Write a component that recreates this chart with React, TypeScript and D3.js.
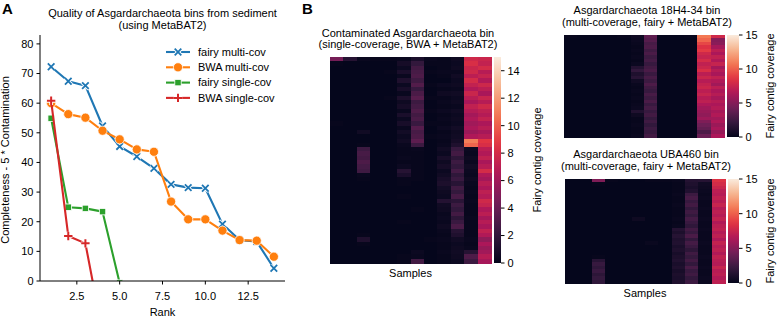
import React from "react";
import * as d3 from "d3";

// ---------------- Panel A data ----------------
const ranksMulti = [1, 2, 3, 4, 5, 6, 7, 8, 9, 10, 11, 12, 13, 14];
const fairyMulti = [72.3, 67.4, 65.9, 52.3, 45.4, 42.0, 38.0, 32.6, 31.5, 31.3, 19.2, 13.8, 13.3, 4.3];
const bwaMulti = [60.0, 56.3, 55.1, 50.7, 47.8, 44.4, 43.6, 26.8, 20.8, 20.8, 17.0, 13.8, 13.6, 8.2];
const ranksFairySingle = [1, 2, 3, 4, 5];
const fairySingle = [54.9, 24.9, 24.5, 23.4, -0.7];
const ranksBwaSingle = [1, 2, 3, 4];
const bwaSingle = [60.8, 15.2, 12.7, -17.5];
const seriesNames = ["fairy multi-cov", "BWA multi-cov", "fairy single-cov", "BWA single-cov"];
const xTicks = [2.5, 5.0, 7.5, 10.0, 12.5];
const yTicks = [0, 10, 20, 30, 40, 50, 60, 70, 80];

// ---------------- Panel B data (rows x 12 samples) ----------------
const heat1 = [
  [4.5, 1.5, 0.3, 0.2, 0.2, 0.3, 1.0, 0.3, 0.2, 0.5, 7.8, 7.6],
  [0.2, 0.1, 0.1, 0.1, 0.1, 0.8, 2.0, 0.2, 0.2, 0.4, 8.2, 7.3],
  [0.1, 0.1, 0.1, 0.1, 0.1, 0.4, 2.6, 0.1, 0.2, 0.5, 7.6, 8.0],
  [0.1, 0.1, 0.1, 0.1, 0.2, 1.0, 2.8, 0.2, 0.3, 0.3, 7.8, 6.8],
  [0.1, 0.1, 0.1, 0.1, 0.1, 0.3, 3.0, 0.1, 0.2, 0.6, 7.0, 7.4],
  [0.1, 0.1, 0.1, 0.1, 0.1, 1.2, 2.5, 0.1, 0.1, 0.4, 8.0, 6.6],
  [0.1, 0.1, 0.1, 0.1, 0.1, 0.4, 3.2, 0.2, 0.4, 0.5, 7.3, 7.7],
  [0.1, 0.1, 0.1, 0.1, 0.1, 0.9, 2.2, 0.1, 0.2, 0.3, 6.6, 7.0],
  [0.1, 0.1, 0.1, 0.1, 0.1, 0.3, 2.9, 0.1, 0.5, 0.6, 7.6, 6.3],
  [0.1, 0.1, 0.1, 0.1, 0.2, 1.1, 3.4, 0.2, 0.2, 0.4, 6.9, 7.5],
  [0.1, 0.1, 0.1, 0.1, 0.1, 0.5, 2.4, 0.1, 0.3, 0.5, 6.3, 6.8],
  [0.1, 0.1, 0.1, 0.1, 0.1, 0.8, 2.7, 0.1, 0.2, 0.3, 7.2, 7.8],
  [0.1, 0.1, 0.1, 0.1, 0.1, 0.3, 3.1, 0.2, 0.4, 0.6, 6.7, 7.1],
  [0.1, 0.1, 0.1, 0.1, 0.1, 1.0, 2.6, 0.1, 0.2, 0.4, 6.1, 6.7],
  [0.1, 0.1, 0.1, 0.1, 0.1, 0.4, 2.9, 0.1, 0.3, 0.5, 6.5, 7.3],
  [0.2, 0.1, 0.1, 0.1, 0.1, 0.9, 2.3, 0.2, 0.2, 0.4, 6.0, 6.4],
  [0.1, 0.1, 0.1, 0.1, 0.1, 0.3, 3.3, 0.1, 0.4, 0.7, 6.4, 6.9],
  [0.1, 0.1, 0.6, 0.1, 0.1, 0.7, 2.8, 0.1, 0.2, 0.5, 5.8, 6.2],
  [0.1, 0.1, 0.1, 0.1, 0.1, 0.4, 3.0, 0.2, 0.3, 0.6, 6.5, 6.8],
  [0.1, 0.1, 0.1, 0.1, 0.1, 0.6, 3.6, 0.1, 0.2, 0.8, 11.0, 8.6],
  [0.1, 0.1, 0.2, 0.1, 0.1, 0.3, 2.4, 0.1, 0.3, 1.2, 10.2, 8.2],
  [0.1, 0.1, 2.4, 0.1, 0.1, 0.2, 0.3, 0.1, 0.6, 2.2, 0.4, 7.0],
  [0.1, 0.1, 2.8, 0.1, 0.1, 0.2, 0.2, 0.1, 0.4, 2.6, 0.3, 6.6],
  [0.1, 0.1, 2.6, 0.1, 0.1, 0.3, 0.2, 0.1, 0.9, 1.8, 0.5, 7.2],
  [0.1, 0.1, 3.0, 0.1, 0.1, 0.2, 0.2, 0.1, 0.5, 2.4, 0.3, 6.3],
  [0.1, 0.1, 2.7, 0.1, 0.1, 0.4, 0.2, 0.1, 0.8, 2.0, 0.6, 6.8],
  [0.1, 0.1, 2.5, 0.1, 0.1, 1.5, 0.2, 0.1, 0.4, 2.7, 0.4, 8.0],
  [0.1, 0.1, 0.3, 0.1, 0.1, 1.0, 0.2, 0.1, 0.6, 1.9, 0.3, 6.6],
  [0.1, 0.1, 0.2, 0.1, 0.1, 0.2, 0.2, 0.1, 0.9, 2.3, 0.5, 6.1],
  [0.1, 0.1, 0.1, 0.1, 0.1, 0.2, 0.1, 0.1, 1.1, 1.6, 0.3, 6.9],
  [0.1, 0.1, 0.1, 0.1, 0.1, 0.1, 0.1, 0.1, 0.7, 2.5, 0.2, 6.4],
  [0.1, 0.1, 0.1, 0.1, 0.1, 0.1, 0.1, 0.1, 0.5, 2.1, 0.3, 7.1],
  [0.1, 0.1, 0.1, 0.1, 0.1, 0.2, 0.1, 0.1, 0.4, 2.8, 0.2, 6.7],
  [0.1, 0.1, 0.1, 0.1, 0.1, 0.1, 0.1, 0.1, 1.4, 1.7, 0.3, 7.8],
  [0.1, 0.1, 0.1, 0.1, 0.1, 0.1, 0.1, 0.1, 0.6, 2.4, 0.2, 7.4],
  [0.1, 0.1, 0.1, 0.1, 0.1, 0.1, 0.2, 0.1, 0.5, 2.0, 0.2, 6.5],
  [0.1, 0.1, 0.1, 0.1, 0.1, 0.1, 0.1, 0.1, 0.3, 2.6, 0.2, 7.0],
  [0.1, 0.1, 0.1, 0.1, 0.1, 0.1, 0.1, 0.1, 0.4, 1.8, 0.3, 6.2],
  [0.1, 0.1, 0.1, 0.1, 0.1, 0.2, 0.1, 0.1, 0.3, 2.3, 0.2, 6.8],
  [0.1, 0.1, 0.1, 0.1, 0.1, 0.1, 0.1, 0.1, 0.5, 2.9, 0.2, 6.3],
  [0.1, 0.1, 0.1, 0.1, 0.1, 0.1, 0.1, 0.1, 0.3, 1.5, 0.2, 7.2],
  [0.1, 0.1, 0.2, 0.1, 0.1, 0.1, 0.1, 0.1, 0.2, 1.2, 0.2, 6.6],
  [0.1, 0.1, 1.2, 0.1, 0.1, 0.1, 0.1, 0.2, 0.3, 0.6, 0.3, 5.4],
  [0.1, 0.1, 0.2, 0.1, 0.1, 0.1, 0.1, 0.1, 0.2, 0.4, 0.2, 6.4],
  [0.1, 0.1, 0.1, 0.1, 0.1, 0.1, 0.1, 0.1, 0.2, 0.5, 0.3, 5.7],
  [0.1, 0.1, 0.1, 0.1, 0.1, 0.1, 0.4, 0.1, 0.3, 0.6, 1.5, 6.0],
  [0.1, 0.1, 0.1, 0.1, 0.1, 0.2, 0.3, 0.1, 0.2, 0.5, 3.0, 6.8],
  [0.1, 0.1, 0.1, 0.1, 0.1, 0.2, 2.6, 0.1, 0.2, 0.4, 2.4, 6.2],
];

const heat2 = [
  [0.2, 0.1, 0.1, 0.1, 0.2, 0.5, 3.6, 0.1, 0.1, 0.2, 10.8, 7.8],
  [0.1, 0.1, 0.1, 0.1, 0.1, 0.4, 3.3, 0.1, 0.1, 0.1, 10.2, 5.0],
  [0.1, 0.1, 0.1, 0.1, 0.1, 0.3, 2.8, 0.1, 0.1, 0.1, 9.2, 5.2],
  [0.1, 0.1, 0.1, 0.1, 0.1, 0.2, 3.0, 0.1, 0.1, 0.1, 8.4, 6.2],
  [0.1, 0.1, 0.1, 0.1, 0.1, 0.3, 2.5, 0.1, 0.1, 0.1, 8.8, 7.0],
  [0.1, 0.1, 0.1, 0.1, 0.1, 0.2, 2.9, 0.1, 0.1, 0.1, 7.8, 6.4],
  [0.1, 0.1, 0.1, 0.1, 0.1, 0.3, 2.4, 0.1, 0.1, 0.1, 7.4, 7.2],
  [0.1, 0.1, 0.1, 0.1, 0.1, 0.2, 2.7, 0.1, 0.1, 0.1, 8.0, 6.6],
  [0.1, 0.1, 0.1, 0.1, 0.1, 0.4, 2.2, 0.1, 0.1, 0.1, 7.2, 7.4],
  [0.1, 0.1, 0.1, 0.1, 0.1, 1.4, 2.6, 0.1, 0.1, 0.1, 7.6, 6.1],
  [0.1, 0.1, 0.1, 0.1, 0.1, 2.0, 2.9, 0.1, 0.1, 0.1, 8.2, 6.8],
  [0.1, 0.1, 0.1, 0.1, 0.1, 1.2, 2.3, 0.1, 0.1, 0.1, 7.0, 6.3],
  [0.1, 0.1, 0.1, 0.1, 0.1, 1.6, 2.8, 0.1, 0.1, 0.1, 7.6, 7.2],
  [0.1, 0.1, 0.1, 0.1, 0.1, 0.6, 2.4, 0.1, 0.1, 0.1, 6.8, 6.6],
  [0.1, 0.1, 0.1, 0.1, 0.1, 0.3, 3.0, 0.1, 0.1, 0.1, 7.3, 6.0],
  [0.1, 0.1, 0.1, 0.1, 0.1, 0.2, 2.5, 0.1, 0.1, 0.1, 7.6, 7.0],
  [0.1, 0.1, 0.1, 0.1, 0.1, 0.3, 2.2, 0.1, 0.1, 0.1, 7.0, 6.4],
  [0.1, 0.1, 0.1, 0.1, 0.1, 0.2, 2.8, 0.1, 0.1, 0.1, 7.4, 6.8],
  [0.1, 0.1, 0.1, 0.1, 0.1, 0.3, 2.4, 0.1, 0.1, 0.1, 6.8, 6.2],
  [0.1, 0.1, 0.1, 0.1, 0.1, 0.2, 2.9, 0.1, 0.1, 0.1, 7.1, 6.8],
  [0.1, 0.1, 0.1, 0.1, 0.1, 0.3, 2.3, 0.1, 0.1, 0.1, 6.5, 6.4],
  [0.1, 0.1, 0.1, 0.1, 0.1, 0.4, 2.7, 0.1, 0.1, 0.1, 6.0, 6.7],
  [0.1, 0.1, 0.1, 0.1, 0.1, 1.3, 2.2, 0.1, 0.1, 0.1, 5.7, 6.2],
  [0.1, 0.1, 0.1, 0.1, 0.1, 0.5, 2.6, 0.1, 0.1, 0.1, 5.4, 6.6],
  [0.1, 0.1, 0.1, 0.1, 0.1, 0.2, 2.1, 0.1, 0.1, 0.1, 5.9, 6.0],
  [0.1, 0.1, 0.1, 0.1, 0.1, 0.2, 2.5, 0.1, 0.1, 0.1, 4.8, 6.5],
  [0.1, 0.1, 0.1, 0.1, 0.1, 0.3, 2.0, 0.1, 0.1, 0.1, 4.2, 5.8],
  [0.1, 0.1, 0.1, 0.1, 0.1, 0.2, 2.4, 0.1, 0.1, 0.1, 3.8, 6.3],
  [0.1, 0.1, 0.1, 0.1, 0.1, 0.2, 2.2, 0.1, 0.1, 0.1, 3.0, 5.6],
  [0.1, 0.1, 0.1, 0.1, 0.1, 0.3, 2.6, 0.1, 0.1, 0.1, 4.0, 6.4],
];

const heat3 = [
  [0.1, 0.1, 4.8, 0.2, 0.1, 0.1, 0.2, 0.2, 0.3, 1.4, 1.5, 8.4],
  [0.1, 0.1, 0.2, 0.1, 0.1, 0.1, 0.1, 0.1, 0.2, 1.2, 0.6, 8.0],
  [0.1, 0.1, 0.1, 0.1, 0.1, 0.1, 0.1, 0.1, 0.2, 1.0, 0.5, 7.6],
  [0.1, 0.1, 0.1, 0.1, 0.1, 0.1, 0.1, 0.1, 0.2, 1.3, 0.4, 7.0],
  [0.1, 0.1, 0.1, 0.1, 0.1, 0.1, 0.1, 0.1, 0.3, 2.4, 0.3, 6.8],
  [0.1, 0.1, 0.1, 0.1, 0.1, 0.1, 0.1, 0.1, 0.2, 2.8, 0.4, 7.2],
  [0.1, 0.1, 0.1, 0.1, 0.1, 0.1, 0.1, 0.1, 0.2, 2.2, 0.3, 6.9],
  [0.1, 0.1, 0.1, 0.1, 0.1, 0.1, 0.1, 0.1, 0.3, 2.6, 0.3, 7.4],
  [0.1, 0.1, 0.1, 0.1, 0.1, 0.1, 0.1, 0.1, 0.2, 2.0, 0.4, 6.7],
  [0.1, 0.1, 0.1, 0.1, 0.1, 0.1, 0.1, 0.1, 0.2, 2.5, 0.3, 7.1],
  [0.1, 0.1, 0.1, 0.1, 0.1, 0.1, 0.1, 0.1, 0.2, 2.1, 0.3, 6.8],
  [0.1, 0.1, 0.1, 0.1, 0.1, 0.5, 0.1, 0.1, 0.3, 2.7, 0.4, 7.3],
  [0.1, 0.1, 0.1, 0.1, 0.1, 0.1, 0.1, 0.1, 0.2, 2.3, 0.3, 6.6],
  [0.1, 0.1, 0.1, 0.1, 0.1, 0.1, 0.1, 0.1, 0.3, 1.9, 0.3, 7.0],
  [0.1, 0.1, 0.1, 0.1, 0.1, 0.1, 0.1, 0.1, 1.4, 2.6, 0.4, 7.2],
  [0.1, 0.1, 0.1, 0.1, 0.1, 0.1, 0.1, 0.1, 1.1, 2.2, 0.3, 6.7],
  [0.1, 0.1, 0.1, 0.1, 0.1, 0.1, 0.1, 0.1, 1.5, 2.9, 0.3, 7.1],
  [0.1, 0.1, 0.1, 0.1, 0.1, 0.1, 0.1, 0.1, 1.2, 2.0, 0.3, 6.5],
  [0.1, 0.1, 0.1, 0.1, 0.1, 0.1, 0.3, 0.1, 1.3, 2.7, 0.4, 7.3],
  [0.1, 0.1, 0.1, 0.1, 0.1, 0.1, 0.1, 0.1, 1.0, 2.3, 0.3, 6.8],
  [0.1, 0.1, 0.1, 0.1, 0.1, 0.1, 0.1, 0.1, 1.2, 1.8, 0.3, 7.1],
  [0.1, 0.1, 0.1, 0.1, 0.1, 0.1, 0.1, 0.1, 0.9, 2.5, 0.3, 6.6],
  [0.1, 0.1, 0.2, 0.1, 0.1, 0.1, 0.1, 0.1, 1.1, 2.1, 0.4, 7.2],
  [0.1, 0.1, 1.6, 0.1, 0.1, 0.1, 0.1, 0.1, 1.3, 2.6, 0.3, 6.9],
  [0.1, 0.1, 2.2, 0.1, 0.1, 0.1, 0.1, 0.1, 1.0, 2.0, 0.3, 6.7],
  [0.1, 0.1, 1.9, 0.1, 0.1, 0.1, 0.1, 0.1, 1.2, 2.8, 0.4, 7.4],
  [0.1, 0.1, 2.3, 0.1, 0.1, 0.1, 0.1, 0.1, 0.9, 2.2, 0.3, 6.8],
  [0.1, 0.1, 1.8, 0.1, 0.1, 0.1, 0.1, 0.1, 1.1, 2.5, 0.3, 7.0],
  [0.1, 0.1, 2.1, 0.1, 0.1, 0.1, 0.1, 0.1, 1.0, 2.0, 0.4, 6.6],
  [0.1, 0.1, 1.9, 0.1, 0.1, 0.1, 0.1, 0.1, 1.2, 2.4, 0.3, 7.1],
];

const heatTitles = [
  ["Contaminated Asgardarchaeota bin", "(single-coverage, BWA + MetaBAT2)"],
  ["Asgardarchaeota 18H4-34 bin", "(multi-coverage, fairy + MetaBAT2)"],
  ["Asgardarchaeota UBA460 bin", "(multi-coverage, fairy + MetaBAT2)"],
];
const heatMax = [15, 15, 15];
const cbTicks1 = [0, 2, 4, 6, 8, 10, 12, 14];
const cbTicks23 = [0, 5, 10, 15];

// rocket colormap key colours
const rocketStops = ["#03051a", "#35193e", "#701f57", "#ad1759", "#e13342", "#f37651", "#f6b48f", "#faebdd"];

const FONT = "'Liberation Sans', Arial, Helvetica, sans-serif";
const COLORS = ["#1f77b4", "#ff7f0e", "#2ca02c", "#d62728"];

const rocketScale = d3
  .scaleLinear<string>()
  .domain(rocketStops.map((_, i) => i / (rocketStops.length - 1)))
  .range(rocketStops)
  .interpolate(d3.interpolateRgb)
  .clamp(true);

function Marker({ kind, x, y, color }: { kind: number; x: number; y: number; color: string }) {
  if (kind === 0) {
    const d = "M-3.3,-3.3L3.3,3.3M-3.3,3.3L3.3,-3.3";
    return (
      <g transform={`translate(${x},${y})`}>
        <path d={d} stroke="#fff" strokeWidth={3.6} fill="none" />
        <path d={d} stroke={color} strokeWidth={1.8} fill="none" />
      </g>
    );
  }
  if (kind === 1) return <circle cx={x} cy={y} r={4.6} fill={color} stroke="#fff" strokeWidth={0.8} />;
  if (kind === 2) return <rect x={x - 3.2} y={y - 3.2} width={6.4} height={6.4} fill={color} stroke="#fff" strokeWidth={0.8} />;
  const d = "M-4.2,0L4.2,0M0,-4.2L0,4.2";
  return (
    <g transform={`translate(${x},${y})`}>
      <path d={d} stroke="#fff" strokeWidth={3.8} fill="none" />
      <path d={d} stroke={color} strokeWidth={2} fill="none" />
    </g>
  );
}

function PanelA() {
  const x = d3.scaleLinear().domain([0.35, 14.65]).range([40, 285]);
  const y = d3.scaleLinear().domain([0, 83]).range([281, 35]);
  const series = [
    { xs: ranksMulti, ys: fairyMulti },
    { xs: ranksMulti, ys: bwaMulti },
    { xs: ranksFairySingle, ys: fairySingle },
    { xs: ranksBwaSingle, ys: bwaSingle },
  ];
  const line = d3
    .line<[number, number]>()
    .x((d) => x(d[0]))
    .y((d) => y(d[1]));
  return (
    <g fontFamily={FONT}>
      <defs>
        <clipPath id="clipA">
          <rect x={40} y={30} width={250} height={251} />
        </clipPath>
      </defs>
      <text x={2} y={14} fontSize={15} fontWeight="bold">A</text>
      <text x={162.5} y={16.5} fontSize={11} textAnchor="middle">Quality of Asgardarchaeota bins from sediment</text>
      <text x={162.5} y={28.5} fontSize={11} textAnchor="middle">(using MetaBAT2)</text>
      <g clipPath="url(#clipA)">
        {series.map((s, i) => {
          const pts = s.xs.map((r, k) => [r, s.ys[k]] as [number, number]);
          return (
            <g key={i}>
              <path d={line(pts) || ""} fill="none" stroke={COLORS[i]} strokeWidth={2.1} strokeLinejoin="round" />
              {pts.map((p, k) => (
                <Marker key={k} kind={i} x={x(p[0])} y={y(p[1])} color={COLORS[i]} />
              ))}
            </g>
          );
        })}
      </g>
      {/* axes */}
      <line x1={40} x2={40} y1={35} y2={281} stroke="#000" strokeWidth={1} />
      <line x1={40} x2={285} y1={281} y2={281} stroke="#000" strokeWidth={1} />
      {yTicks.map((t) => (
        <g key={t}>
          <line x1={36.5} x2={40} y1={y(t)} y2={y(t)} stroke="#000" strokeWidth={1} />
          <text x={33.5} y={y(t)} dy="0.35em" fontSize={11} textAnchor="end">{t}</text>
        </g>
      ))}
      {xTicks.map((t) => (
        <g key={t}>
          <line x1={x(t)} x2={x(t)} y1={281} y2={284.5} stroke="#000" strokeWidth={1} />
          <text x={x(t)} y={299.5} fontSize={11} textAnchor="middle">{t.toFixed(1)}</text>
        </g>
      ))}
      <text x={162.5} y={316} fontSize={11} textAnchor="middle">Rank</text>
      <text transform="translate(9,160) rotate(-90)" fontSize={11} textAnchor="middle">
        Completeness - 5 * Contamination
      </text>
      {/* legend */}
      {seriesNames.map((n, i) => {
        const cy = 52 + i * 15.3;
        return (
          <g key={n}>
            <line x1={166} x2={190} y1={cy} y2={cy} stroke={COLORS[i]} strokeWidth={2.1} />
            <Marker kind={i} x={178} y={cy} color={COLORS[i]} />
            <text x={198} y={cy} dy="0.35em" fontSize={11}>{n}</text>
          </g>
        );
      })}
    </g>
  );
}

type HeatProps = {
  id: string;
  data: number[][];
  vmax: number;
  x0: number;
  x1: number;
  y0: number;
  y1: number;
  cbX: number;
  cbW: number;
  ticks: number[];
  labelX: number;
  title: string[];
  titleX: number;
  titleY: number;
  samplesY?: number;
};

function Heatmap(p: HeatProps) {
  const nRows = p.data.length;
  const nCols = p.data[0].length;
  const xb = d3.scaleBand<number>().domain(d3.range(nCols)).range([p.x0, p.x1]);
  const yb = d3.scaleBand<number>().domain(d3.range(nRows)).range([p.y0, p.y1]);
  const cb = d3.scaleLinear().domain([0, p.vmax]).range([p.y1, p.y0]);
  const stops = d3.range(0, 1.0001, 0.05);
  const cbRight = p.cbX + p.cbW;
  return (
    <g fontFamily={FONT}>
      <defs>
        <linearGradient id={p.id} x1="0" y1="1" x2="0" y2="0">
          {stops.map((s) => (
            <stop key={s} offset={s} stopColor={rocketScale(s)} />
          ))}
        </linearGradient>
      </defs>
      <text x={p.titleX} y={p.titleY} fontSize={11} textAnchor="middle">{p.title[0]}</text>
      <text x={p.titleX} y={p.titleY + 11.8} fontSize={11} textAnchor="middle">{p.title[1]}</text>
      <g shapeRendering="crispEdges">
        {p.data.map((row, r) =>
          row.map((v, c) => (
            <rect
              key={`${r}-${c}`}
              x={xb(c)}
              y={yb(r)}
              width={xb.bandwidth() + 0.5}
              height={yb.bandwidth() + 0.5}
              fill={rocketScale(Math.min(v, p.vmax) / p.vmax)}
            />
          ))
        )}
      </g>
      <rect x={p.cbX} y={p.y0} width={p.cbW} height={p.y1 - p.y0} fill={`url(#${p.id})`} />
      {p.ticks.map((t) => (
        <g key={t}>
          <line x1={cbRight} x2={cbRight + 3.5} y1={cb(t)} y2={cb(t)} stroke="#000" strokeWidth={1} />
          <text x={cbRight + 6.5} y={cb(t)} dy="0.35em" fontSize={11}>{t}</text>
        </g>
      ))}
      <text
        transform={`translate(${p.labelX},${(p.y0 + p.y1) / 2}) rotate(-90)`}
        fontSize={11}
        textAnchor="middle"
      >
        Fairy contig coverage
      </text>
      {p.samplesY !== undefined && (
        <text x={(p.x0 + p.x1) / 2} y={p.samplesY} fontSize={11} textAnchor="middle">Samples</text>
      )}
    </g>
  );
}

export default function App() {
  return (
    <svg width={778} height={317} style={{ position: "absolute", left: 0, top: 0, background: "#fff" }}>
      <rect width={778} height={317} fill="#fff" />
      <PanelA />
      <text x={302} y={14} fontSize={15} fontWeight="bold" fontFamily={FONT}>B</text>
      <Heatmap
        id="cb1"
        data={heat1}
        vmax={heatMax[0]}
        x0={330}
        x1={491}
        y0={57}
        y1={263}
        cbX={494}
        cbW={7}
        ticks={cbTicks1}
        labelX={541}
        title={heatTitles[0]}
        titleX={408}
        titleY={36.5}
        samplesY={277}
      />
      <Heatmap
        id="cb2"
        data={heat2}
        vmax={heatMax[1]}
        x0={564}
        x1={724}
        y0={35}
        y1={137}
        cbX={727}
        cbW={12}
        ticks={cbTicks23}
        labelX={774}
        title={heatTitles[1]}
        titleX={647}
        titleY={14}
      />
      <Heatmap
        id="cb3"
        data={heat3}
        vmax={heatMax[2]}
        x0={565}
        x1={725}
        y0={179}
        y1={283}
        cbX={728}
        cbW={11}
        ticks={cbTicks23}
        labelX={774}
        title={heatTitles[2]}
        titleX={646}
        titleY={158}
        samplesY={297}
      />
    </svg>
  );
}
